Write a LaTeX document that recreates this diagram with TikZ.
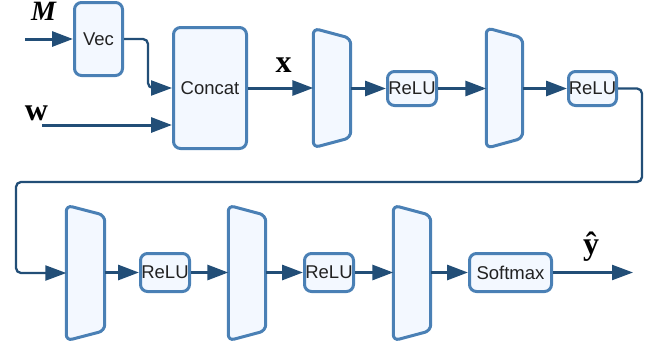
\documentclass[tikz,border=0pt]{standalone}
\usepackage{fontspec}
\setmainfont{Liberation Sans}
\newfontfamily\lblfont{Liberation Serif}
\usetikzlibrary{arrows.meta}

\definecolor{boxline}{HTML}{4A80B5}
\definecolor{boxfill}{HTML}{F3F8FF}
\definecolor{flow}{HTML}{224E77}
\definecolor{ink}{HTML}{222222}

\tikzset{
  block/.style={draw=boxline, fill=boxfill, line width=3pt, rounded corners=7pt,
    inner sep=0pt, text=ink, font=\fontsize{18.5}{20}\selectfont},
  layer/.style={inner sep=0pt},
  layerline/.style={draw=boxline, fill=boxfill, line width=3pt, rounded corners=6pt},
  conn/.style={draw=flow, line width=3pt, -{Triangle[length=21pt,width=15pt]}},
  thinconn/.style={conn, line width=2.3pt, rounded corners=5pt},
  lbl/.style={text=black, inner sep=0pt, font=\lblfont\bfseries\fontsize{32}{34}\selectfont},
}

% a dense layer drawn as a trapezoid over the named rectangle #1
\newcommand\layershape[2]{%
  \path[layerline] (#1.north west) -- ([yshift=-#2pt]#1.north east)
    -- ([yshift=#2pt]#1.south east) -- (#1.south west) -- cycle;}

\begin{document}
\begin{tikzpicture}[x=1pt,y=-1pt]
\useasboundingbox (0,0) rectangle (657,349);

% ---- top row ----
\node[block, minimum width=48pt, minimum height=73pt] (vec) at (98.5,39) {Vec};
\node[block, minimum width=73pt, minimum height=121pt] (cc) at (210,88) {Concat};
\node[layer, minimum width=37pt, minimum height=119pt] (t1) at (332,88) {};
\layershape{t1}{10}
\node[block, minimum width=49pt, minimum height=34pt] (r1) at (412,88.5) {ReLU};
\node[layer, minimum width=36pt, minimum height=120pt] (t2) at (504.5,88) {};
\layershape{t2}{10}
\node[block, minimum width=48pt, minimum height=34pt] (r2) at (592.5,88.5) {ReLU};

% ---- bottom row ----
\node[layer, minimum width=38pt, minimum height=135pt] (t3) at (85.5,273) {};
\layershape{t3}{10}
\node[block, minimum width=49pt, minimum height=38pt] (r3) at (165,272.5) {ReLU};
\node[layer, minimum width=37pt, minimum height=135pt] (t4) at (247,273) {};
\layershape{t4}{10}
\node[block, minimum width=49pt, minimum height=38pt] (r4) at (329,272.5) {ReLU};
\node[layer, minimum width=37pt, minimum height=135pt] (t5) at (412,273) {};
\layershape{t5}{10}
\node[block, minimum width=82pt, minimum height=38pt] (sm) at (510.5,272.5) {Softmax};

% ---- labels ----
\node[lbl, font=\lblfont\bfseries\itshape\fontsize{28}{30}\selectfont] (lM) at (43.5,11.5) {M};
\node[lbl, anchor=base] (lw) at (36.5,120) {w};
\node[lbl, anchor=base] (lx) at (283.5,72) {x};
\node[lbl] (ly) at (591,247) {ŷ};

% ---- free ends and bends ----
\coordinate (mIn) at (25,39);
\coordinate (wIn) at (42,125);
\coordinate (vbend) at (148,39);
\coordinate (wrapA) at (642,182);
\coordinate (wrapB) at (16,182);
\coordinate (yOut) at (633,272.5);

% ---- connectors ----
\draw[conn] (mIn) -- (vec.west);
\draw[conn] (wIn) -- (wIn -| cc.west);
\draw[thinconn] (vec.east) -- (vbend) |- (cc.west);
\draw[conn] (cc.east) -- (t1.west |- cc.east);
\draw[conn] (t1.east |- r1.west) -- (r1.west);
\draw[conn] (r1.east) -- (t2.west |- r1.east);
\draw[conn] (t2.east |- r2.west) -- (r2.west);
\draw[thinconn] (r2.east) -| (wrapA) -- (wrapB) |- (t3.west);
\draw[conn] (t3.east |- r3.west) -- (r3.west);
\draw[conn] (r3.east) -- (t4.west |- r3.east);
\draw[conn] (t4.east |- r4.west) -- (r4.west);
\draw[conn] (r4.east) -- (t5.west |- r4.east);
\draw[conn] (t5.east |- sm.west) -- (sm.west);
\draw[thinconn] (sm.east) -- (yOut);
\end{tikzpicture}
\end{document}
